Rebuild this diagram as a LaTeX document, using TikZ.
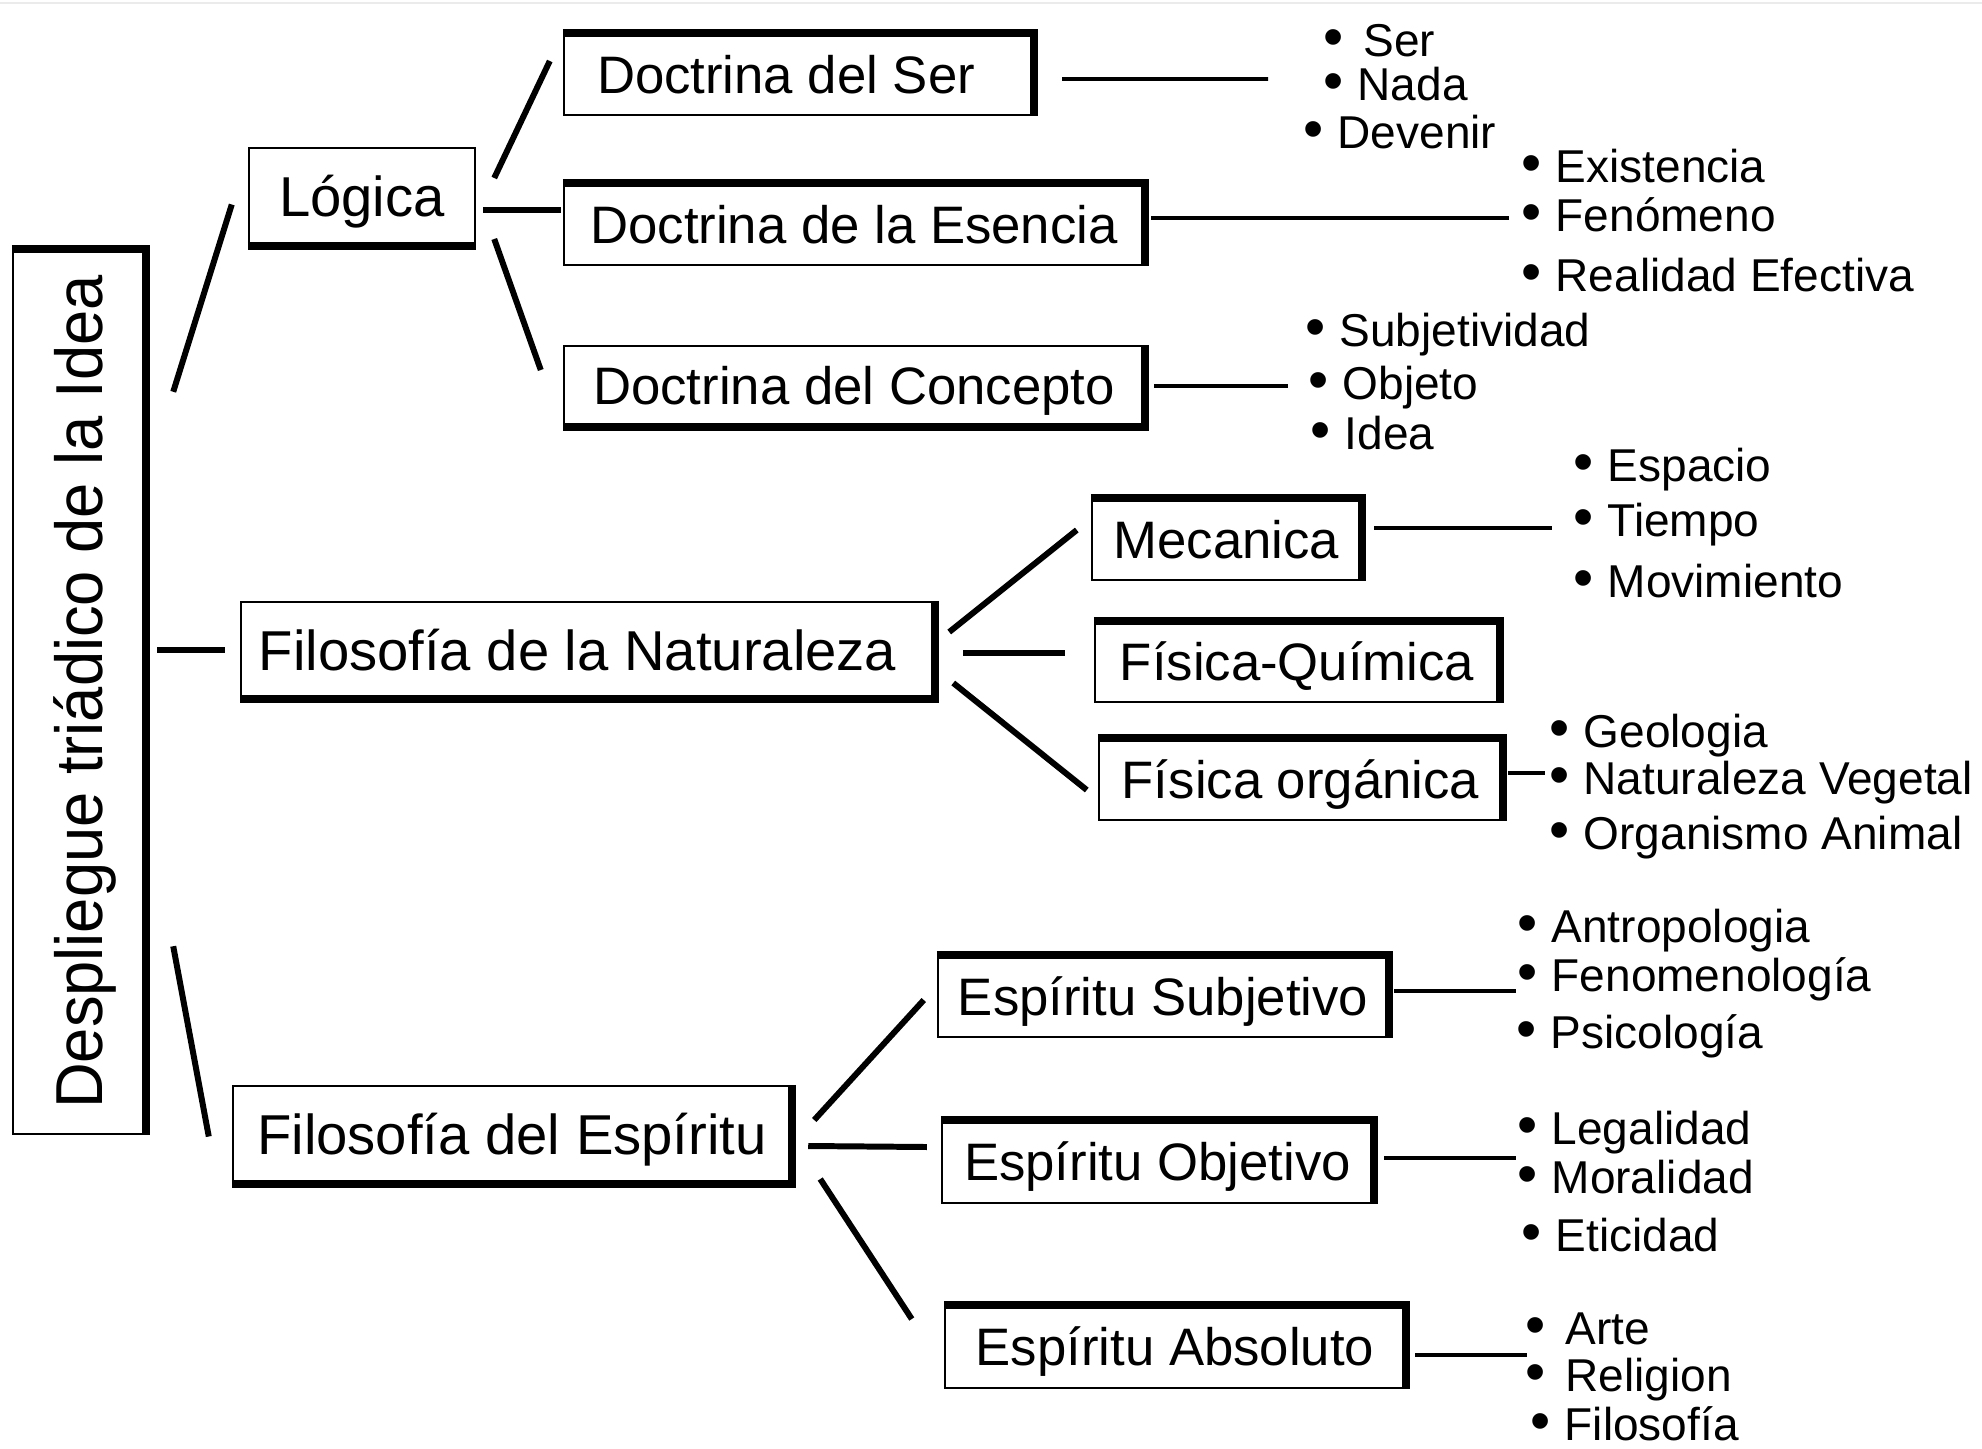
\documentclass[tikz,border=0pt]{standalone}
\usepackage{fontspec}
\setmainfont{Liberation Sans}
\newcommand{\punto}{\scalebox{1.25}{•}\hspace{.3em}}

\begin{document}
\begin{tikzpicture}[
  x=0.1mm, y=-0.1mm,
  caja/.style={draw, line width=0.7pt, inner sep=0pt, text height=10.7pt, text depth=0pt,
    font=\fontsize{15}{18}\selectfont},
  grande/.style={text height=11.5pt, font=\fontsize{16}{19}\selectfont},
  item/.style={anchor=base west, inner sep=0pt, text height=9.4pt, text depth=0pt,
    font=\fontsize{13.1}{15}\selectfont},
  borde/.style={line width=2.2pt},
  rama/.style={line width=1.7pt},
  hoja/.style={line width=1pt}
]
  \fill[white] (0,0) rectangle (1982,1448);
  \useasboundingbox (0,0) rectangle (1982,1448);
  \draw[black!8, line width=0.6pt] (0,3) -- (1982,3);

  \node[draw, line width=0.7pt, inner sep=0pt, minimum width=13.2mm, minimum height=88.4mm] (idea) at (79,692)
    {\rotatebox{90}{\scalebox{1}[1.05]{\fontsize{18}{20}\selectfont\rule{0pt}{.72em}\smash{Despliegue triádico de la Idea}}}};

  \node[caja, grande, minimum width=22.6mm, minimum height=9.7mm] (logica) at (362,196.5) {Lógica};
  \node[caja, minimum width=46.9mm, minimum height=8.1mm] (dser) at (798.5,74.5) {Doctrina del Ser\kern2.5mm};
  \node[caja, minimum width=58mm, minimum height=8.1mm] (desencia) at (854,224.5) {Doctrina de la Esencia};
  \node[caja, minimum width=58mm, minimum height=8mm] (dconcepto) at (854,386) {Doctrina del Concepto};

  \node[caja, grande, minimum width=69.3mm, minimum height=9.6mm] (naturaleza) at (587.5,650) {Filosofía de la Naturaleza\kern2mm};
  \node[caja, minimum width=26.9mm, minimum height=8.1mm] (mecanica) at (1226.5,539.5) {Mecanica};
  \node[caja, minimum width=40.4mm, minimum height=8mm] (fisquim) at (1297,662) {Física-Química};
  \node[caja, minimum width=40.3mm, minimum height=8.1mm] (fisorg) at (1300.5,779.5) {Física orgánica};

  \node[caja, grande, minimum width=55.8mm, minimum height=9.7mm] (espiritu) at (512,1134.5) {Filosofía del Espíritu};
  \node[caja, minimum width=45mm, minimum height=8.1mm] (esubj) at (1163,996.5) {Espíritu Subjetivo};
  \node[caja, minimum width=43.1mm, minimum height=8.2mm] (eobj) at (1157.5,1162) {Espíritu Objetivo};
  \node[caja, minimum width=46mm, minimum height=8.2mm] (eabs) at (1175,1347) {Espíritu Absoluto};

  \foreach \n in {idea,dser,desencia,mecanica,fisquim,fisorg,esubj,eobj,eabs}
    \draw[borde] (\n.north west) -- (\n.north east) -- (\n.south east);
  \foreach \n in {dconcepto,naturaleza,espiritu}
    \draw[borde] (\n.north east) -- (\n.south east) -- (\n.south west);
  \draw[borde] (logica.south west) -- (logica.south east);

  \node[item] (iser) at (1323,57) {\punto\hspace{.13em}Ser};
  \node[item] (inada) at (1323,101) {\punto Nada};
  \node[item] (idevenir) at (1303,149) {\punto Devenir};
  \node[item] (iexistencia) at (1521,183) {\punto Existencia};
  \node[item] (ifenomeno) at (1521,231) {\punto Fenómeno};
  \node[item] (irealidad) at (1521,291) {\punto Realidad Efectiva};
  \node[item] (isubjetividad) at (1305,346) {\punto Subjetividad};
  \node[item] (iobjeto) at (1308,399) {\punto Objeto};
  \node[item] (iidea) at (1310,449) {\punto Idea};
  \node[item] (iespacio) at (1573,481) {\punto Espacio};
  \node[item] (itiempo) at (1573,536) {\punto Tiempo};
  \node[item] (imovimiento) at (1573,597) {\punto Movimiento};
  \node[item] (igeologia) at (1549,747) {\punto Geologia};
  \node[item] (ivegetal) at (1549,794) {\punto Naturaleza Vegetal};
  \node[item] (ianimal) at (1549,849) {\punto Organismo Animal};
  \node[item] (iantropologia) at (1517,942) {\punto Antropologia};
  \node[item] (ifenomenologia) at (1517,991) {\punto Fenomenología};
  \node[item] (ipsicologia) at (1516,1048) {\punto Psicología};
  \node[item] (ilegalidad) at (1517,1144) {\punto Legalidad};
  \node[item] (imoralidad) at (1517,1193) {\punto Moralidad};
  \node[item] (ieticidad) at (1521,1251) {\punto Eticidad};
  \node[item] (iarte) at (1525,1344) {\punto\hspace{.13em}Arte};
  \node[item] (ireligion) at (1525,1391) {\punto\hspace{.13em}Religion};
  \node[item] (ifilosofia) at (1530,1440) {\punto Filosofía};

  \draw[rama] ([shift={(27,143)}]idea.north east) -- ([shift={(-16,8)}]logica.west);
  \draw[rama] ([shift={(11,-42)}]idea.east) -- ([shift={(-15,0)}]naturaleza.west);
  \draw[rama] ([shift={(27,-189)}]idea.south east) -- ([shift={(-23,2)}]espiritu.west);

  \draw[rama] ([shift={(18,-18.5)}]logica.east) -- ([shift={(-13,-13.5)}]dser.west);
  \draw[rama] ([shift={(7,13.5)}]logica.east) -- ([shift={(-2,-14.5)}]desencia.west);
  \draw[rama] ([shift={(18,42.5)}]logica.east) -- ([shift={(-22,-16)}]dconcepto.west);

  \draw[rama] ([shift={(14,-18)}]naturaleza.east) -- ([shift={(-14,-9.5)}]mecanica.west);
  \draw[rama] ([shift={(28,3)}]naturaleza.east) -- ([shift={(-29,-9)}]fisquim.west);
  \draw[rama] ([shift={(18,33)}]naturaleza.east) -- ([shift={(-11,10.5)}]fisorg.west);

  \draw[rama] ([shift={(22,-14.5)}]espiritu.east) -- ([shift={(-13,3.5)}]esubj.west);
  \draw[rama] ([shift={(16,11.5)}]espiritu.east) -- ([shift={(-14,-15)}]eobj.west);
  \draw[rama] ([shift={(28,44.5)}]espiritu.east) -- ([shift={(-32,-28)}]eabs.west);

  \draw[hoja] ([shift={(28,4.5)}]dser.east) -- ([shift={(-55,-22)}]inada.base west);
  \draw[hoja] ([shift={(6,-6.5)}]desencia.east) -- ([shift={(-12,-13)}]ifenomeno.base west);
  \draw[hoja] ([shift={(9,0)}]dconcepto.east) -- ([shift={(-20,-13)}]iobjeto.base west);
  \draw[hoja] ([shift={(12,-11.5)}]mecanica.east) -- ([shift={(-21,-8)}]itiempo.base west);
  \draw[hoja] ([shift={(5,-6.5)}]fisorg.east) -- ([shift={(-4,-21)}]ivegetal.base west);
  \draw[hoja] ([shift={(5,-5.5)}]esubj.east) -- ([shift={(-1,0)}]ifenomenologia.base west);
  \draw[hoja] ([shift={(10,-4)}]eobj.east) -- ([shift={(-1,-35)}]imoralidad.base west);
  \draw[hoja] ([shift={(9,8)}]eabs.east) -- ([shift={(2,-36)}]ireligion.base west);
\end{tikzpicture}
\end{document}
